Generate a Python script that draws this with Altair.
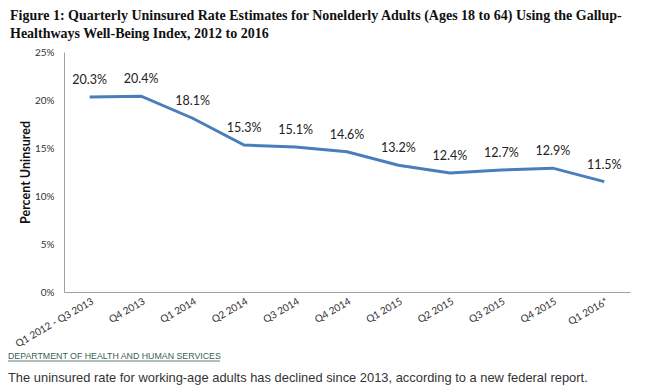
import altair as alt
import pandas as pd

quarters = ["Q1 2012 - Q3 2013", "Q4 2013", "Q1 2014", "Q2 2014", "Q3 2014", "Q4 2014",
            "Q1 2015", "Q2 2015", "Q3 2015", "Q4 2015", "Q1 2016*"]
rates = [20.3, 20.4, 18.1, 15.3, 15.1, 14.6, 13.2, 12.4, 12.7, 12.9, 11.5]
y_ticks = [0, 5, 10, 15, 20, 25]

title_lines = ["Figure 1: Quarterly Uninsured Rate Estimates for Nonelderly Adults (Ages 18 to 64) Using the Gallup-",
               "Healthways Well-Being Index, 2012 to 2016"]
source_text = "DEPARTMENT OF HEALTH AND HUMAN SERVICES"
caption_text = "The uninsured rate for working-age adults has declined since 2013, according to a new federal report."

df = pd.DataFrame({"quarter": quarters, "rate": rates})
df["label"] = [f"{v:.1f}%" for v in rates]

W, H = 566, 240

x = alt.X("quarter:N", sort=quarters, title=None,
          scale=alt.Scale(type="point", padding=0.5),
          axis=alt.Axis(labelAngle=-30, labelFont="Lato", labelFontSize=10, labelColor="#333",
                        ticks=False, domainColor="#a0a0a0", labelPadding=4,
                        labelAlign="right", labelBaseline="top"))
y = alt.Y("rate:Q", title="Percent Uninsured",
          scale=alt.Scale(domain=[0, 25], nice=False),
          axis=alt.Axis(values=y_ticks, labelExpr="datum.value + '%'", grid=False, ticks=False,
                        domainColor="#a0a0a0", labelFont="Lato", labelFontSize=10, labelColor="#333",
                        labelPadding=10, titleFont="Lato", titleFontSize=12.5, titleFontWeight="bold",
                        titleColor="#111", titleX=-32, titleY=120, titleAngle=270, titleAlign="center",
                        titleBaseline="bottom"))

line = alt.Chart(df).mark_line(color="#4a7ebb", strokeWidth=3).encode(x=x, y=y)
labels = alt.Chart(df).mark_text(font="Lato", fontSize=12.5, color="#222", dy=-17).encode(
    x=alt.X("quarter:N", sort=quarters), y="rate:Q", text="label:N")

src_df = pd.DataFrame({"t": [source_text]})
cap_df = pd.DataFrame({"t": [caption_text]})
source = alt.Chart(src_df).mark_text(font="Liberation Sans", fontSize=8.8, color="#3d5e56",
                                     align="left", baseline="alphabetic").encode(
    x=alt.value(-56), y=alt.value(307), text="t:N")
underline = alt.Chart(src_df).mark_rule(color="#3d5e56", strokeWidth=0.8).encode(
    x=alt.value(-56), x2=alt.value(156), y=alt.value(309))
caption = alt.Chart(cap_df).mark_text(font="Liberation Sans", fontSize=12.9, color="#333",
                                      align="left", baseline="alphabetic").encode(
    x=alt.value(-56), y=alt.value(330), text="t:N")

chart = alt.layer(line, labels, source, underline, caption).properties(
    width=W, height=H,
    autosize=alt.AutoSizeParams(type="none"),
    padding={"left": 56, "top": 44, "right": 9, "bottom": 99},
    title=alt.TitleParams(title_lines, anchor="start", frame="group", dx=-54, offset=6,
                          font="Liberation Serif", fontSize=14, fontWeight="bold",
                          color="#111", lineHeight=18),
).configure_view(stroke=None)

chart.save("out.html", embed_options={"renderer": "svg", "actions": False})
